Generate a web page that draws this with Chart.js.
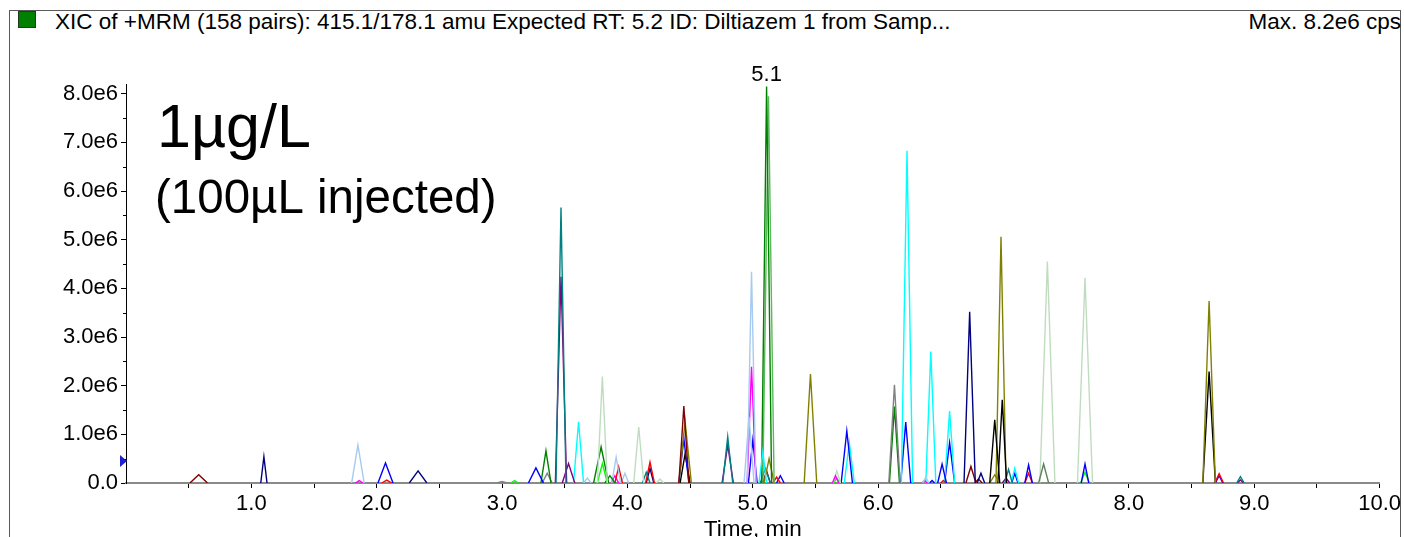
<!DOCTYPE html>
<html>
<head>
<meta charset="utf-8">
<script src="https://cdn.jsdelivr.net/npm/chart.js@4.4.0/dist/chart.umd.min.js"></script>
<style>
  html, body { margin: 0; padding: 0; overflow: hidden; background: #fff; }
  body { width: 1404px; height: 537px; position: relative; font-family: "Liberation Sans", Arial, sans-serif; }
  #frame { position: absolute; left: 9px; top: 10px; width: 1390px; height: 560px; border: 1.5px solid #5a5a5a; }
  #swatch { position: absolute; left: 18px; top: 11px; width: 16px; height: 15px; background: #008000; border: 1px solid #1d3d1d; }
  .hdr { position: absolute; top: 11px; font-size: 22.5px; line-height: 22px; color: #000; white-space: nowrap; }
  #title { left: 55px; }
  #max { right: 3px; }
  canvas { position: absolute; left: 0; top: 0; }
</style>
</head>
<body>
<div id="frame"></div>
<div id="swatch"></div>
<div class="hdr" id="title">XIC of +MRM (158 pairs): 415.1/178.1 amu Expected RT: 5.2 ID: Diltiazem 1 from Samp...</div>
<div class="hdr" id="max">Max. 8.2e6 cps</div>
<canvas id="chart" width="1404" height="560"></canvas>
<script>
// retention time (min), apex intensity (cps), half base width (min) of each peak
const peakRT = [
  0.58, 1.10, 1.85, 1.86, 2.07, 2.08, 2.33, 3.00, 3.10, 3.27,
  3.35, 3.36, 3.47, 3.47, 3.53, 3.61, 3.68, 3.80, 3.79, 3.80,
  3.86, 3.91, 3.93, 3.90, 3.98, 4.09, 4.15, 4.18, 4.18, 4.26,
  4.45, 4.46, 4.45, 4.46, 4.80, 4.80, 4.99, 4.97, 4.99, 5.00,
  5.08, 5.11, 5.125, 5.13, 5.10, 5.11, 5.19, 5.22, 5.46, 5.66,
  5.67, 5.67, 5.75, 5.77, 6.13, 6.13, 6.23, 6.22, 6.38, 6.37,
  6.42, 6.43, 6.51, 6.52, 6.57, 6.57, 6.73, 6.74, 6.82, 6.80,
  6.93, 6.93, 6.99, 6.98, 7.04, 7.02, 7.09, 7.09, 7.20, 7.20,
  7.32, 7.35, 7.65, 7.65, 7.65, 8.64, 8.64, 8.72, 8.72, 8.89,
  8.89
];
const peakHeight = [
  0.17e6, 0.54e6, 0.78e6, 0.05e6, 0.41e6, 0.06e6, 0.25e6, 0.03e6, 0.05e6, 0.31e6,
  0.66e6, 0.20e6, 5.66e6, 4.24e6, 0.40e6, 1.26e6, 0.10e6, 2.19e6, 0.74e6, 0.40e6,
  0.15e6, 0.53e6, 0.33e6, 0.15e6, 0.20e6, 1.15e6, 0.22e6, 0.43e6, 0.30e6, 0.08e6,
  1.58e6, 1.26e6, 0.92e6, 0.60e6, 0.95e6, 0.78e6, 4.34e6, 1.36e6, 2.39e6, 0.88e6,
  0.64e6, 8.15e6, 7.95e6, 0.50e6, 0.30e6, 0.25e6, 0.12e6, 0.15e6, 2.24e6, 0.15e6,
  0.25e6, 0.10e6, 1.07e6, 0.83e6, 2.02e6, 1.57e6, 6.83e6, 1.25e6, 0.12e6, 0.05e6,
  2.70e6, 0.05e6, 0.39e6, 0.05e6, 1.48e6, 0.83e6, 3.52e6, 0.34e6, 0.20e6, 0.08e6,
  1.30e6, 0.17e6, 1.71e6, 5.06e6, 0.28e6, 0.10e6, 0.30e6, 0.20e6, 0.37e6, 0.20e6,
  0.39e6, 4.55e6, 4.22e6, 0.39e6, 0.22e6, 3.74e6, 2.29e6, 0.19e6, 0.15e6, 0.13e6,
  0.06e6
];
const peakHalfWidth = [
  0.07, 0.025, 0.05, 0.03, 0.06, 0.04, 0.07, 0.04, 0.03, 0.06,
  0.04, 0.04, 0.04, 0.045, 0.05, 0.04, 0.03, 0.04, 0.06, 0.04,
  0.04, 0.035, 0.03, 0.03, 0.03, 0.04, 0.03, 0.035, 0.03, 0.03,
  0.04, 0.05, 0.04, 0.04, 0.04, 0.045, 0.035, 0.04, 0.035, 0.035,
  0.03, 0.04, 0.045, 0.04, 0.04, 0.03, 0.03, 0.03, 0.05, 0.025,
  0.03, 0.025, 0.045, 0.04, 0.045, 0.04, 0.045, 0.04, 0.025, 0.02,
  0.04, 0.02, 0.035, 0.02, 0.04, 0.04, 0.045, 0.04, 0.03, 0.03,
  0.04, 0.04, 0.035, 0.04, 0.03, 0.03, 0.03, 0.025, 0.03, 0.03,
  0.04, 0.06, 0.06, 0.03, 0.035, 0.05, 0.05, 0.035, 0.03, 0.03,
  0.025
];
const peakColor = [
  '#800000', '#000080', '#a6caf0', '#ff00ff', '#0000ff', '#ff0000', '#000080', '#808080', '#00ff00', '#0000ff',
  '#008000', '#808080', '#008080', '#800080', '#800080', '#00ffff', '#a6caf0', '#c0dcc0', '#008000', '#00ff00',
  '#008000', '#a6caf0', '#ff0000', '#ff00ff', '#a6caf0', '#c0dcc0', '#008080', '#ff0000', '#000080', '#c0dcc0',
  '#800000', '#808000', '#0000ff', '#000000', '#008080', '#800080', '#a6caf0', '#a6caf0', '#ff00ff', '#0000ff',
  '#00ffff', '#008000', '#5cb85c', '#808000', '#008080', '#800080', '#ff0000', '#0000ff', '#808000', '#ff00ff',
  '#c0dcc0', '#00ff00', '#0000ff', '#00ffff', '#808080', '#008000', '#00ffff', '#0000ff', '#a6caf0', '#ff00ff',
  '#00ffff', '#0000ff', '#0000ff', '#ff0000', '#00ffff', '#0000ff', '#000080', '#800000', '#000080', '#800000',
  '#000000', '#808000', '#000000', '#808000', '#008080', '#800080', '#00ffff', '#0000ff', '#0000ff', '#ff0000',
  '#608060', '#c0dcc0', '#c0dcc0', '#0000ff', '#00ff00', '#808000', '#000000', '#ff0000', '#0000ff', '#008080',
  '#800080'
];

const xTickLabels = ['1.0', '2.0', '3.0', '4.0', '5.0', '6.0', '7.0', '8.0', '9.0', '10.0'];
const yTickLabels = ['0.0', '1.0e6', '2.0e6', '3.0e6', '4.0e6', '5.0e6', '6.0e6', '7.0e6', '8.0e6'];
const thresholdLevel = 0.45e6;

const FONT = '"Liberation Sans", Arial, sans-serif';

const datasets = peakRT.map((rt, i) => ({
  data: [
    { x: rt - peakHalfWidth[i], y: 0 },
    { x: rt, y: peakHeight[i] },
    { x: rt + peakHalfWidth[i], y: 0 }
  ],
  borderColor: peakColor[i],
  borderWidth: 1.4,
  pointRadius: 0,
  tension: 0,
  fill: false
}));

const annotate = {
  id: 'annotate',
  afterDraw(chart) {
    const { ctx, scales: { x, y } } = chart;
    ctx.save();
    ctx.fillStyle = '#000';
    ctx.textBaseline = 'alphabetic';
    ctx.font = '61px ' + FONT;
    ctx.fillText('1µg/L', 157, 147);
    ctx.font = '47.5px ' + FONT;
    ctx.fillText('(100µL injected)', 155, 213);

    // label the tallest peak with its retention time
    const top = peakHeight.indexOf(Math.max(...peakHeight));
    ctx.font = '22px ' + FONT;
    ctx.textAlign = 'center';
    ctx.fillText(peakRT[top].toFixed(1), x.getPixelForValue(peakRT[top]), y.getPixelForValue(peakHeight[top]) - 5);

    // minor y ticks
    ctx.strokeStyle = '#000';
    ctx.lineWidth = 1;
    for (let v = 0.5e6; v < 8e6; v += 1e6) {
      const py = Math.round(y.getPixelForValue(v)) + 0.5;
      ctx.beginPath();
      ctx.moveTo(x.left - 3, py);
      ctx.lineTo(x.left, py);
      ctx.stroke();
    }

    // threshold marker
    const ty = y.getPixelForValue(thresholdLevel);
    ctx.fillStyle = '#2020d0';
    ctx.beginPath();
    ctx.moveTo(x.left - 6, ty - 6);
    ctx.lineTo(x.left + 1, ty);
    ctx.lineTo(x.left - 6, ty + 6);
    ctx.closePath();
    ctx.fill();
    ctx.restore();
  }
};

new Chart(document.getElementById('chart'), {
  type: 'line',
  data: { datasets },
  options: {
    responsive: false,
    animation: false,
    events: [],
    layout: { padding: { top: 84, right: 24, left: 0, bottom: 0 } },
    plugins: { legend: { display: false }, tooltip: { enabled: false } },
    scales: {
      x: {
        type: 'linear',
        min: 0,
        max: 10,
        afterBuildTicks: (s) => {
          const t = [];
          for (let v = 0.5; v <= 10; v += 0.5) t.push({ value: v });
          s.ticks = t;
        },
        afterFit: (s) => { s.height = 560 - 483; },
        ticks: {
          autoSkip: false,
          maxRotation: 0,
          color: '#000',
          font: { size: 22, family: FONT },
          padding: 3,
          callback: (v) => (Number.isInteger(v) ? xTickLabels[v - 1] : '')
        },
        grid: { drawOnChartArea: false, tickLength: 5, color: '#000' },
        border: { color: '#8a8a8a', width: 2 },
        title: {
          display: true,
          text: 'Time, min',
          color: '#000',
          font: { size: 22.5, family: FONT },
          padding: { top: 0, bottom: 17 }
        }
      },
      y: {
        min: 0,
        max: 8.2e6,
        afterBuildTicks: (s) => {
          s.ticks = yTickLabels.map((_, i) => ({ value: i * 1e6 }));
        },
        afterFit: (s) => { s.width = 126; },
        ticks: {
          color: '#000',
          font: { size: 22, family: FONT },
          padding: 3,
          callback: (v) => yTickLabels[Math.round(v / 1e6)]
        },
        grid: { drawOnChartArea: false, tickLength: 5, color: '#000' },
        border: { color: '#000', width: 1 }
      }
    }
  },
  plugins: [annotate]
});
</script>
</body>
</html>
